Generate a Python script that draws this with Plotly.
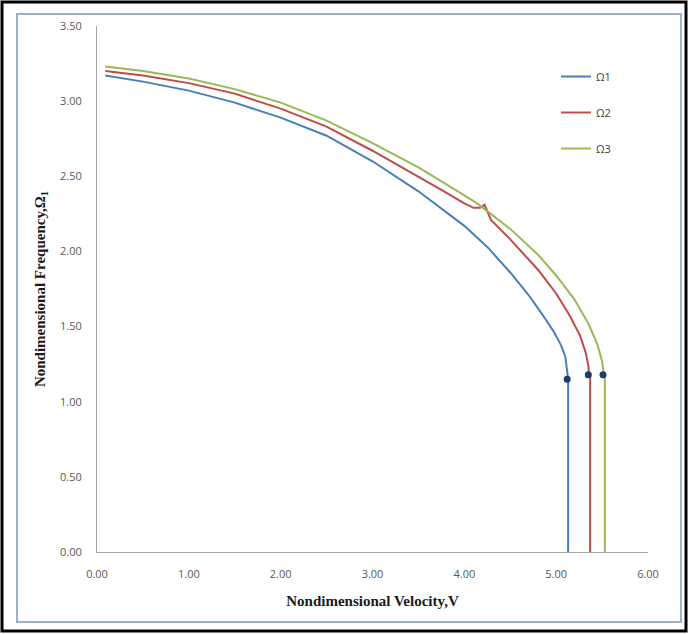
import plotly.graph_objects as go

# Data
v1 = [0.09, 0.5, 1.0, 1.5, 2.0, 2.5, 3.0, 3.5, 4.0, 4.25, 4.5, 4.7, 4.85, 4.97, 5.05, 5.10, 5.12, 5.13, 5.13]
f1 = [3.17, 3.13, 3.07, 2.99, 2.89, 2.77, 2.60, 2.40, 2.17, 2.03, 1.86, 1.71, 1.58, 1.47, 1.38, 1.30, 1.20, 1.15, 0.0]

v2 = [0.09, 0.5, 1.0, 1.5, 2.0, 2.5, 3.0, 3.5, 3.75, 4.0, 4.10, 4.17, 4.22, 4.29, 4.5, 4.8, 5.0, 5.15, 5.26, 5.32, 5.35, 5.36, 5.37, 5.37]
f2 = [3.20, 3.17, 3.12, 3.05, 2.95, 2.83, 2.67, 2.50, 2.41, 2.32, 2.29, 2.29, 2.31, 2.21, 2.08, 1.88, 1.72, 1.57, 1.44, 1.33, 1.24, 1.18, 1.18, 0.0]

v3 = [0.09, 0.5, 1.0, 1.5, 2.0, 2.5, 3.0, 3.5, 3.77, 4.14, 4.5, 4.8, 5.0, 5.2, 5.35, 5.45, 5.50, 5.52, 5.53, 5.53]
f3 = [3.23, 3.20, 3.15, 3.08, 2.99, 2.87, 2.72, 2.56, 2.46, 2.32, 2.15, 1.98, 1.84, 1.68, 1.52, 1.38, 1.27, 1.18, 1.18, 0.0]

dot_v = [5.12, 5.35, 5.51]
dot_f = [1.15, 1.18, 1.18]

names = ["Ω1", "Ω2", "Ω3"]
colors = ["#4a7ebb", "#be4b48", "#98b954"]
x_ticks = [0, 1, 2, 3, 4, 5, 6]
y_ticks = [0, 0.5, 1.0, 1.5, 2.0, 2.5, 3.0, 3.5]

W, H = 689, 634
L, R, T, B = 97, 648, 26, 552

fig = go.Figure()
for i, (vx, fy) in enumerate([(v1, f1), (v2, f2), (v3, f3)]):
    fig.add_trace(go.Scatter(x=vx, y=fy, mode="lines", name=names[i],
                             line=dict(color=colors[i], width=2),
                             legendgroup=names[i]))
fig.add_trace(go.Scatter(x=dot_v, y=dot_f, mode="markers", showlegend=False,
                         marker=dict(color="#1f3b6e", size=7)))


def px2paper(px, py):
    return (px - L) / (R - L), (B - py) / (B - T)

shapes = []
x0, y0 = px2paper(17, 14)
x1, y1 = px2paper(681, 622)
shapes.append(dict(type="rect", xref="paper", yref="paper", x0=x0, y0=y1, x1=x1, y1=y0,
                   line=dict(color="#9fb1c6", width=2), layer="below"))
x0, y0 = px2paper(2, 2)
x1, y1 = px2paper(686, 631)
shapes.append(dict(type="rect", xref="paper", yref="paper", x0=x0, y0=y1, x1=x1, y1=y0,
                   line=dict(color="black", width=3), layer="above"))

lx, ly = px2paper(556, 62)

tick_font = dict(family="Open Sans, Liberation Sans, sans-serif", size=11, color="#595959")
title_font = dict(family="Liberation Serif, serif", size=15, color="#1a1a1a")

fig.update_layout(
    width=W, height=H,
    margin=dict(l=L, r=W - R, t=T, b=H - B),
    paper_bgcolor="white", plot_bgcolor="white",
    shapes=shapes,
    showlegend=True,
    legend=dict(x=lx, y=ly, xanchor="left", yanchor="top", tracegroupgap=17,
                font=dict(family="Open Sans, Liberation Sans, sans-serif", size=11, color="#404040"),
                bgcolor="rgba(0,0,0,0)"),
    xaxis=dict(range=[0, 6], tickvals=x_ticks, tickformat=".2f", showgrid=False, zeroline=False,
               showline=True, linecolor="#a6a6a6", linewidth=1,
               ticks="outside", ticklen=12, tickcolor="rgba(0,0,0,0)",
               tickfont=tick_font,
               title=dict(text="<b>Nondimensional Velocity,V</b>", standoff=15, font=title_font),
               fixedrange=True),
    yaxis=dict(range=[0, 3.5], tickvals=y_ticks, tickformat=".2f", showgrid=False, zeroline=False,
               showline=True, linecolor="#a6a6a6", linewidth=1,
               ticks="outside", ticklen=12, tickcolor="rgba(0,0,0,0)",
               tickfont=tick_font,
               title=dict(text="<b>Nondimensional Frequency,Ω<sub>1</sub></b>", standoff=10,
                          font=title_font),
               fixedrange=True),
)

fig.write_html("out.html", config={"displayModeBar": False},
               post_script="document.body.style.margin='0';")
